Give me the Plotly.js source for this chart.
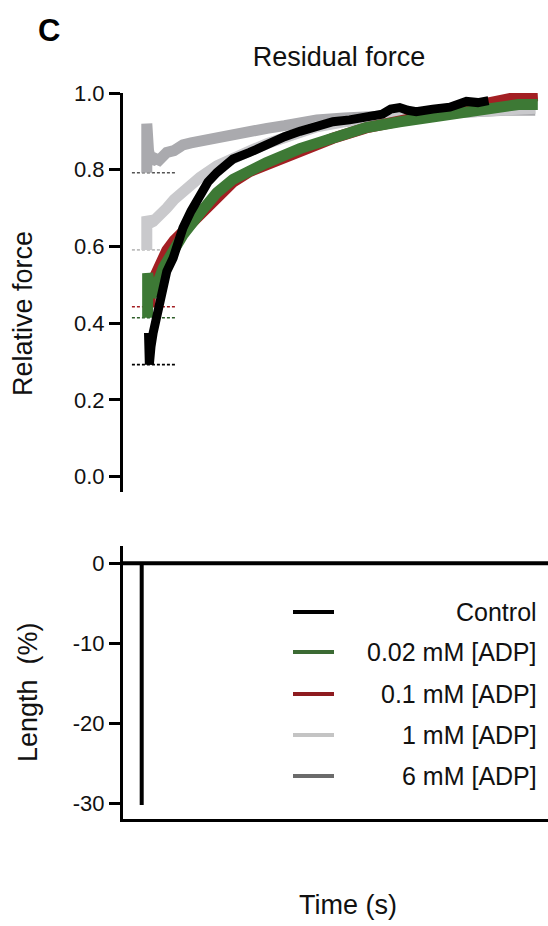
<!DOCTYPE html>
<html><head><meta charset="utf-8">
<script src="https://cdn.plot.ly/plotly-3.0.1.min.js"></script>
<style>html,body{margin:0;padding:0;background:#fff}</style>
</head><body><div id="chart" style="width:548px;height:926px"></div>
<script>
// ---- data ----
const seriesNames = ['Control', '0.02 mM [ADP]', '0.1 mM [ADP]', '1 mM [ADP]', '6 mM [ADP]'];
const legendColors = ['#000000', '#3b6a33', '#8e1b1f', '#c4c4c4', '#6b6b6b'];
const traceColors  = ['#000000', '#3d7935', '#a31f23', '#c9c9cc', '#aaaaae'];

// time (s) and relative force for each series
const tControl = [0.60, 0.62, 0.62, 0.66, 0.71, 0.79, 0.95, 1.03, 1.18, 1.41, 1.60, 1.81, 2.00, 2.21, 2.59, 2.98, 3.37, 3.80, 4.16, 4.55, 4.94, 5.33, 5.72, 6.10, 6.30, 6.51, 6.70, 6.90, 7.29, 7.69, 8.08, 8.35, 8.60];
const fControl = [0.375, 0.300, 0.292, 0.340, 0.375, 0.420, 0.487, 0.535, 0.570, 0.648, 0.692, 0.732, 0.768, 0.793, 0.828, 0.845, 0.866, 0.886, 0.900, 0.913, 0.925, 0.930, 0.938, 0.945, 0.958, 0.962, 0.955, 0.951, 0.958, 0.963, 0.978, 0.975, 0.980];

const tADP002 = [0.58, 0.58, 0.60, 0.62, 0.66, 0.71, 0.80, 0.95, 1.18, 1.41, 1.81, 2.21, 2.59, 2.98, 3.37, 4.16, 4.94, 5.72, 6.51, 7.29, 8.08, 8.86, 9.30, 9.76];
const fADP002 = [0.414, 0.530, 0.450, 0.500, 0.470, 0.480, 0.500, 0.545, 0.595, 0.630, 0.687, 0.740, 0.775, 0.800, 0.818, 0.855, 0.885, 0.910, 0.925, 0.938, 0.955, 0.968, 0.970, 0.970];

const tADP01 = [0.64, 0.64, 0.71, 0.80, 0.87, 1.03, 1.20, 1.41, 1.81, 2.21, 2.59, 2.98, 3.37, 4.16, 4.94, 5.72, 6.51, 7.29, 8.08, 8.86, 9.30, 9.76];
const fADP01 = [0.443, 0.500, 0.513, 0.540, 0.560, 0.590, 0.615, 0.638, 0.685, 0.735, 0.768, 0.795, 0.812, 0.850, 0.882, 0.909, 0.927, 0.945, 0.965, 0.985, 0.990, 0.993];

const tADP1 = [0.56, 0.56, 0.62, 0.71, 0.85, 1.03, 1.20, 1.41, 1.60, 1.81, 2.21, 2.59, 3.00, 3.39, 3.80, 4.16, 4.56, 5.20, 6.00, 7.00, 8.00, 9.00, 9.70];
const fADP1 = [0.591, 0.678, 0.660, 0.665, 0.685, 0.700, 0.722, 0.745, 0.762, 0.780, 0.810, 0.832, 0.850, 0.868, 0.884, 0.898, 0.912, 0.925, 0.935, 0.942, 0.950, 0.955, 0.960];

const tADP6 = [0.56, 0.56, 0.60, 0.66, 0.75, 0.85, 1.03, 1.20, 1.41, 1.60, 1.81, 2.21, 2.59, 3.00, 3.39, 3.80, 4.16, 4.56, 5.20, 6.00, 7.00, 8.00, 9.00, 9.70];
const fADP6 = [0.792, 0.920, 0.850, 0.820, 0.830, 0.825, 0.845, 0.850, 0.865, 0.870, 0.875, 0.885, 0.895, 0.900, 0.908, 0.915, 0.922, 0.930, 0.935, 0.940, 0.945, 0.950, 0.955, 0.955];

// dashed baselines (force at the step)
const baselineValues = [0.292, 0.414, 0.443, 0.591, 0.792];
const baselineColors = ['#000000', '#2f5f2a', '#a31f23', '#bdbdbd', '#555555'];
const baselineT = [0.21, 1.25];

// length trace
const lengthT = [0, 0.44, 0.44, 0.44, 10];
const lengthPct = [0, 0, -30.2, 0, 0];

const forceTicks = [0, 0.2, 0.4, 0.6, 0.8, 1.0];
const forceTickText = ['0.0', '0.2', '0.4', '0.6', '0.8', '1.0'];
const lengthTicks = [0, -10, -20, -30];
const lengthTickText = ['0', '-10', '-20', '-30'];

// ---- traces ----
const FONT = 'Liberation Sans, Arial, Helvetica, sans-serif';
const seriesT = [tControl, tADP002, tADP01, tADP1, tADP6];
const seriesF = [fControl, fADP002, fADP01, fADP1, fADP6];
const widths = [9, 11, 11, 11, 11];
const drawOrder = [4, 3, 2, 1, 0];

const traces = [];
baselineValues.forEach((v, i) => {
  traces.push({x: baselineT, y: [v, v], type: 'scatter', mode: 'lines', xaxis: 'x', yaxis: 'y',
    line: {color: baselineColors[i], width: 1.6, dash: '3px,2px'}, showlegend: false, hoverinfo: 'skip'});
});
drawOrder.forEach(i => {
  traces.push({x: seriesT[i], y: seriesF[i], type: 'scatter', mode: 'lines', name: seriesNames[i],
    xaxis: 'x', yaxis: 'y', line: {color: traceColors[i], width: widths[i]}, showlegend: false});
});
traces.push({x: lengthT, y: lengthPct, type: 'scatter', mode: 'lines', xaxis: 'x2', yaxis: 'y2',
  line: {color: '#000', width: 4}, showlegend: false, cliponaxis: false});

// legend built from names/colors
const legendRowsY = [612, 652, 694, 735, 776];
const pxX = px => (px - 123) / 425;
const pxY = py => (819 - py) / 726;
const shapes = [];
const annotations = [];
seriesNames.forEach((n, i) => {
  shapes.push({type: 'line', xref: 'paper', yref: 'paper', x0: pxX(293), x1: pxX(334),
    y0: pxY(legendRowsY[i]), y1: pxY(legendRowsY[i]), line: {color: legendColors[i], width: 4}});
  annotations.push({xref: 'paper', yref: 'paper', x: pxX(539), y: pxY(legendRowsY[i]), text: n,
    xanchor: 'right', yanchor: 'middle', showarrow: false, font: {family: FONT, size: 25, color: '#111'}});
});
const titleFont = {family: FONT, size: 27, color: '#111'};
annotations.push({xref: 'paper', yref: 'paper', x: pxX(36), y: pxY(31), text: '<b>C</b>',
  xanchor: 'left', yanchor: 'middle', showarrow: false, font: {family: FONT, size: 31, color: '#000'}});
annotations.push({xref: 'paper', yref: 'paper', x: pxX(23), y: pxY(314), text: 'Relative force', textangle: -90,
  xanchor: 'center', yanchor: 'middle', showarrow: false, font: titleFont});
annotations.push({xref: 'paper', yref: 'paper', x: pxX(28), y: pxY(692), text: 'Length  (%)', textangle: -90,
  xanchor: 'center', yanchor: 'middle', showarrow: false, font: titleFont});
annotations.push({xref: 'paper', yref: 'paper', x: pxX(348), y: pxY(905), text: 'Time (s)',
  xanchor: 'center', yanchor: 'middle', showarrow: false, font: titleFont});

const tickFont = {family: FONT, size: 22, color: '#111'};
const layout = {
  width: 548, height: 926,
  margin: {l: 123, r: 0, t: 93, b: 107},
  paper_bgcolor: '#fff', plot_bgcolor: 'rgba(0,0,0,0)',
  showlegend: false,
  title: {text: 'Residual force', font: {family: FONT, size: 27, color: '#111'},
    xref: 'container', yref: 'container', x: 339 / 548, y: 1 - 57 / 926, xanchor: 'center', yanchor: 'middle'},
  xaxis: {domain: [0, 1], range: [0, 10], showline: false, showgrid: false, zeroline: false,
    showticklabels: false, ticks: ''},
  yaxis: {domain: [pxY(492), 1], range: [-0.04, 1.0], tickvals: forceTicks, ticktext: forceTickText,
    showline: true, linecolor: '#000', linewidth: 3, ticks: 'outside', ticklen: 11, tickwidth: 3, tickcolor: '#000',
    showgrid: false, zeroline: false, tickfont: tickFont},
  xaxis2: {domain: [0, 1], range: [0, 10], anchor: 'y2', showline: true, linecolor: '#000', linewidth: 3,
    showgrid: false, zeroline: false, showticklabels: false, ticks: ''},
  yaxis2: {domain: [0, pxY(546)], range: [-31.96, 2.16], anchor: 'x2', tickvals: lengthTicks, ticktext: lengthTickText,
    showline: true, linecolor: '#000', linewidth: 3, ticks: 'outside', ticklen: 11, tickwidth: 3, tickcolor: '#000',
    showgrid: false, zeroline: false, tickfont: tickFont},
  shapes: shapes,
  annotations: annotations
};
Plotly.newPlot('chart', traces, layout, {staticPlot: true, displayModeBar: false});
</script>
</body></html>
